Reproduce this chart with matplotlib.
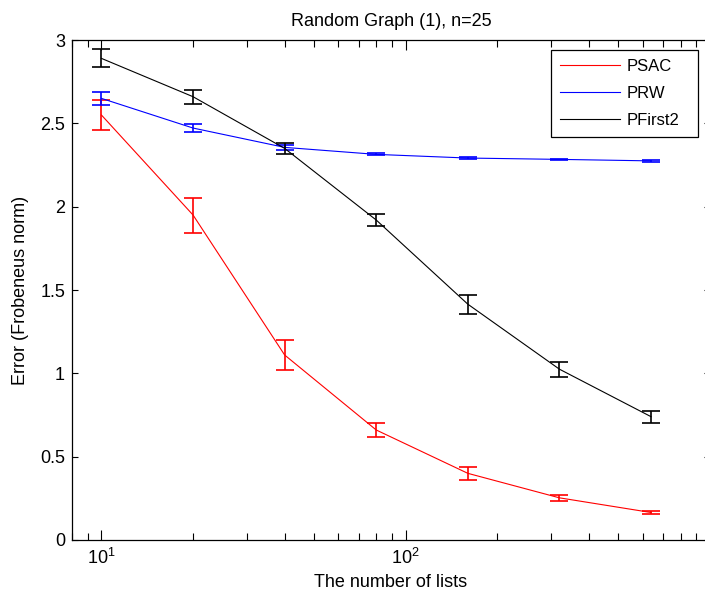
import matplotlib
matplotlib.use("Agg")
import matplotlib.pyplot as plt
from matplotlib.ticker import FormatStrFormatter, LogLocator

plt.rcParams['font.family'] = ['Liberation Sans', 'DejaVu Sans']
plt.rcParams['mathtext.fontset'] = 'custom'
plt.rcParams['mathtext.rm'] = 'Liberation Sans'
plt.rcParams['mathtext.default'] = 'regular'

# number of lists (x) and mean error / error-bar half-width per method
n_lists = [10, 20, 40, 80, 160, 320, 640]

psac_mean = [2.55, 1.95, 1.11, 0.66, 0.40, 0.253, 0.165]
psac_err = [0.09, 0.105, 0.09, 0.043, 0.04, 0.017, 0.011]

prw_mean = [2.65, 2.472, 2.356, 2.314, 2.292, 2.284, 2.275]
prw_err = [0.038, 0.026, 0.015, 0.006, 0.005, 0.004, 0.005]

pfirst_mean = [2.89, 2.66, 2.35, 1.92, 1.415, 1.025, 0.74]
pfirst_err = [0.054, 0.043, 0.032, 0.035, 0.056, 0.044, 0.037]

x_major_ticks = [10, 100]
y_ticks = [0, 0.5, 1, 1.5, 2, 2.5, 3]

series = [
    ("PSAC", psac_mean, psac_err, "#ff0000"),
    ("PRW", prw_mean, prw_err, "#0000ff"),
    ("PFirst2", pfirst_mean, pfirst_err, "#000000"),
]

fig = plt.figure(figsize=(7.05, 5.98), dpi=100)
# the original figure is cropped: the right edge of the axes lies just outside the image
ax = fig.add_axes([0.1021, 0.097, 0.905, 0.836])

for name, mean, err, color in series:
    ax.plot(n_lists, mean, color=color, linewidth=0.8, label=name)
    ax.errorbar(n_lists, mean, yerr=err, fmt='none', ecolor=color,
                elinewidth=1.2, capsize=6.5, capthick=1.2)

ax.set_xscale('log')
ax.set_xlim(8, 1000)
ax.set_ylim(0, 3)
ax.set_xticks(x_major_ticks)
ax.xaxis.set_minor_locator(LogLocator(base=10, subs=range(2, 10), numticks=20))
ax.set_yticks(y_ticks)
ax.yaxis.set_major_formatter(FormatStrFormatter('%g'))

ax.tick_params(which='both', direction='in', top=True, right=True,
               labelsize=13, width=0.8, colors='black')
ax.tick_params(axis='x', which='major', length=7, pad=6)
ax.tick_params(axis='x', which='minor', length=5)
ax.tick_params(axis='y', which='major', length=4.5, pad=5)
for s in ax.spines.values():
    s.set_linewidth(0.9)

ax.set_xlabel("The number of lists", fontsize=13, labelpad=4)
ax.set_ylabel("Error (Frobeneus norm)", fontsize=13, labelpad=8)
ax.set_title("Random Graph (1), n=25", fontsize=13, pad=10)

leg = ax.legend(loc='upper left', bbox_to_anchor=(0.7508, 0.5, 0.2304, 0.48),
                mode='expand', fontsize=12, handlelength=3.6, handletextpad=0.4,
                fancybox=False, edgecolor='black', framealpha=1,
                borderaxespad=0, labelspacing=0.7, borderpad=0.55)
leg.get_frame().set_linewidth(0.9)

fig.savefig("out.png", dpi=100)
